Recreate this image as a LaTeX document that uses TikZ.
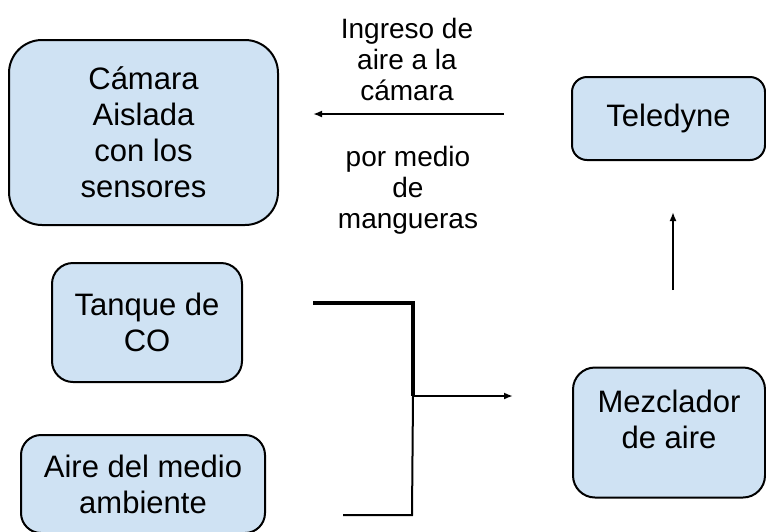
\documentclass[tikz,border=0pt]{standalone}
\usepackage{fontspec}
\setmainfont{Liberation Sans}
\usepackage{xcolor}
\usetikzlibrary{
    arrows.meta,
    positioning
}
\definecolor{boxblue}{HTML}{CFE2F3}
\tikzset{
    box/.style={draw=black, line width=2pt, fill=boxblue, rounded corners=#1,
        align=center, inner sep=0pt, font=\fontsize{31}{36}\selectfont},
    box/.default=20pt,
    note/.style={align=center, font=\fontsize{28}{31}\selectfont},
    pipe/.style={line width=2pt},
    >={Latex[length=9pt,width=7pt]}
}

\begin{document}
\begin{tikzpicture}[x=1pt, y=-1pt]
    \useasboundingbox (0, 0) rectangle (766, 531);
    \node[box=33pt, minimum width=269pt, minimum height=185pt] (camara) at (143.5, 132.5) {Cámara\\Aislada\\con los\\sensores};
    \node[box=15pt, minimum width=193pt, minimum height=83pt] (teledyne) at (668.5, 118.5) {Teledyne};
    \node[box=21pt, minimum width=190pt, minimum height=119pt] (tanque) at (147, 322.5) {Tanque de\\CO};
    \node[box=20pt, minimum width=244pt, minimum height=98pt] (aire) at (143, 484) {Aire del medio\\ambiente};
    \node[box=22pt, minimum width=192pt, minimum height=130pt] (mezclador) at (669, 432.5) {Mezclador\\de aire\\[-10pt]\mbox{}};
    \node[note] (ingreso) at (407, 59) {Ingreso de\\aire a la\\cámara};
    \node[note] (mangueras) at (408, 190) {por medio\\de\\mangueras};
    % free ends of the pipes
    \coordinate (co in) at (313, 303);
    \coordinate (co bend) at (413, 303);
    \coordinate (junta) at (413, 396);
    \coordinate (aire bend) at (412, 515);
    \coordinate (aire in) at (343, 515);
    \coordinate (mezcla in) at (513, 396);
    \coordinate (tel out) at (504, 114);
    \coordinate (cam in) at (313, 114);
    \coordinate (mezcla out) at (673, 290);
    \coordinate (tel in) at (673, 212);
    \draw[line width=3.5pt] (co in) -- (co bend) -- (junta);
    \draw[pipe] (aire in) -- (aire bend) -- (junta);
    \draw[pipe, ->] (junta) -- (mezcla in);
    \draw[pipe, ->] (tel out) -- (cam in);
    \draw[pipe, ->] (mezcla out) -- (tel in);
\end{tikzpicture}
\end{document}
